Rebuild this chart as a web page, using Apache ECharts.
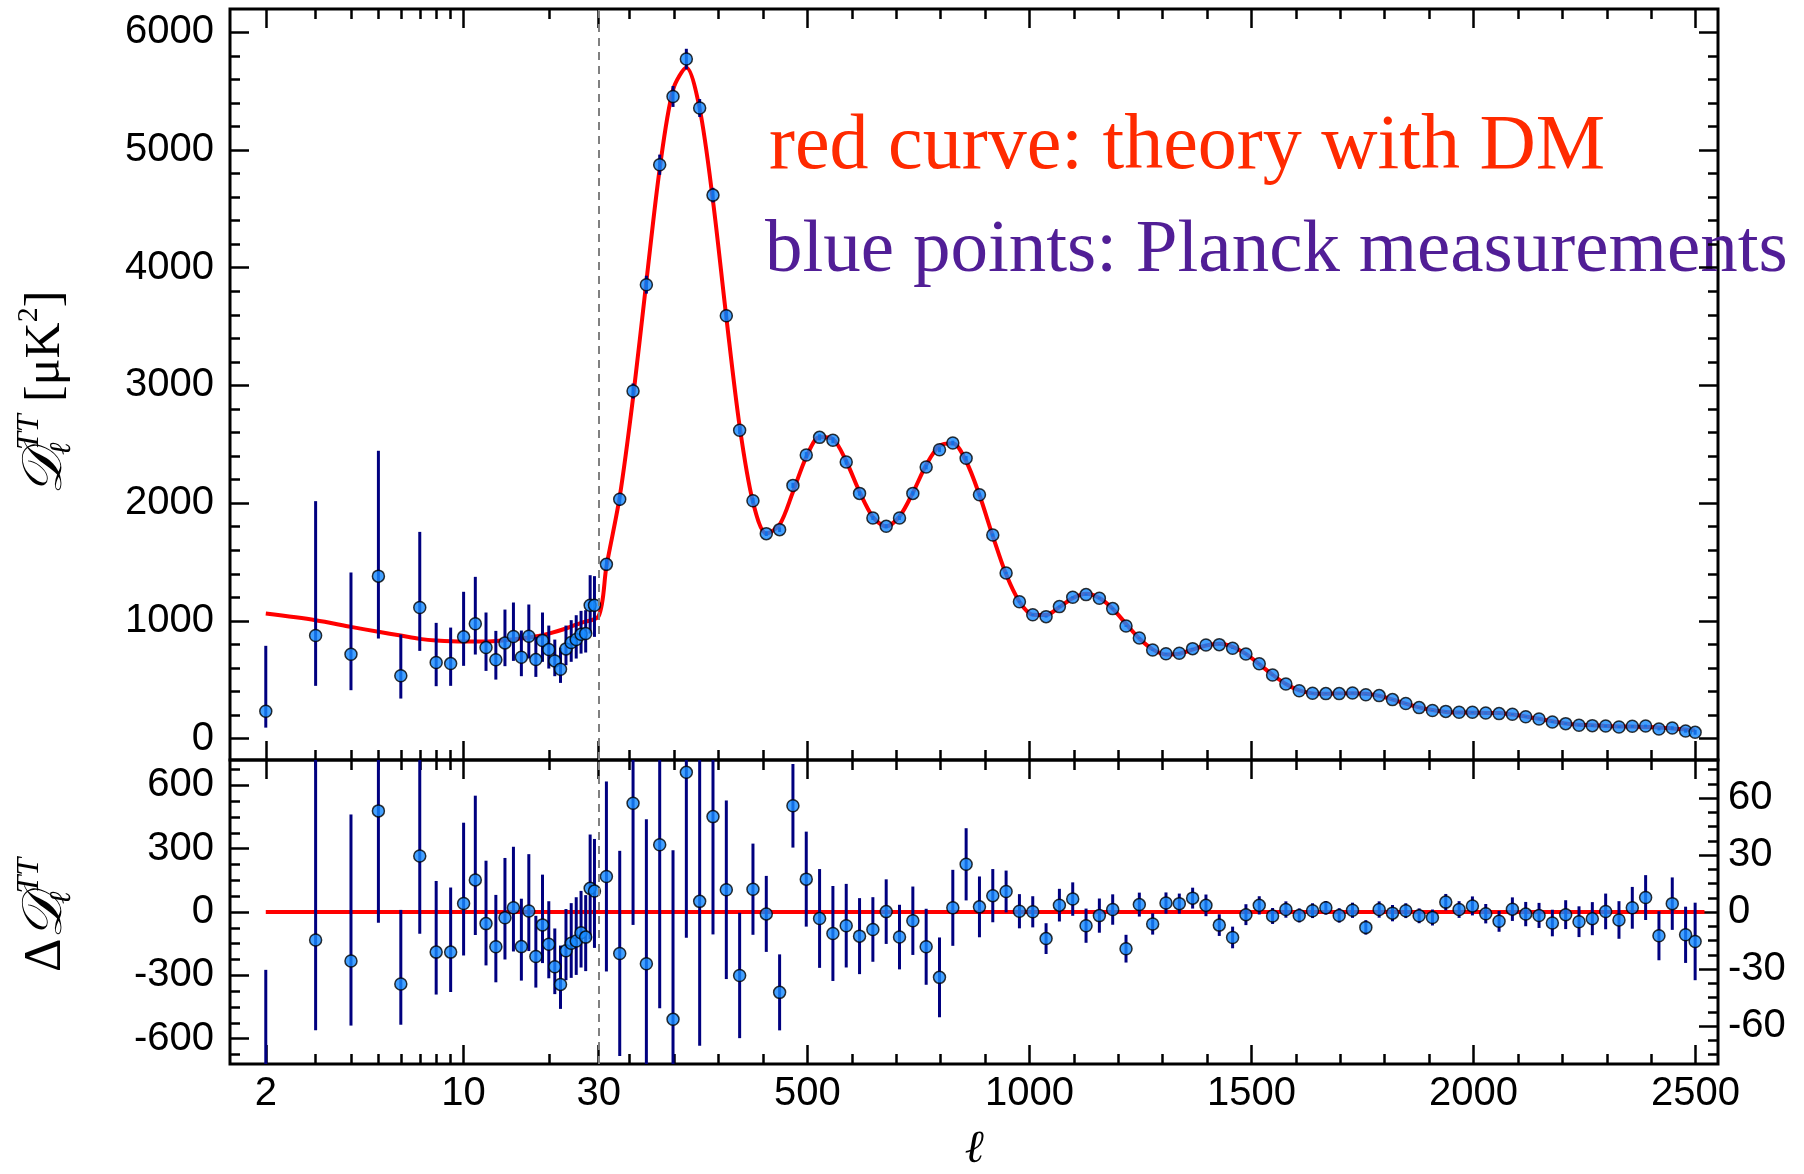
<!DOCTYPE html>
<html>
<head>
<meta charset="utf-8">
<title>Planck TT power spectrum</title>
<script src="https://cdn.jsdelivr.net/npm/echarts@6.0.0/dist/echarts.min.js"></script>
<style>
  html, body { margin: 0; padding: 0; background: #fff; }
  #chart { width: 1804px; height: 1174px; }
</style>
</head>
<body>
<div id="chart"></div>
<script>
// low multipoles (log part of the axis), unbinned
const ellLow = [2, 3, 4, 5, 6, 7, 8, 9, 10, 11, 12, 13, 14, 15, 16, 17, 18, 19, 20, 21, 22, 23, 24, 25, 26, 27, 28, 29];
const dLow = [232, 875, 717, 1380, 533, 1113, 646, 637, 864, 975, 773, 669, 813, 867, 691, 870, 671, 833, 756, 660, 589, 762, 816, 841, 887, 892, 1133, 1133];
const errLowUp = [556, 1142, 694, 1065, 351, 643, 337, 306, 383, 399, 298, 246, 283, 289, 227, 269, 193, 238, 204, 181, 184, 198, 190, 207, 198, 199, 255, 247];
const errLowDown = [139, 427, 306, 530, 193, 368, 201, 189, 246, 261, 198, 168, 198, 207, 161, 190, 147, 181, 161, 130, 116, 139, 164, 161, 165, 161, 241, 269];
const resLow = [-830, -133, -232, 479, -341, 265, -190, -190, 40, 152, -55, -165, -27, 20, -164, 5, -211, -61, -153, -259, -343, -184, -148, -137, -98, -119, 112, 99];

// binned high multipoles (linear part of the axis)
const ellHigh = [47.5, 77.5, 107.5, 137.5, 167.5, 197.5, 227.5, 257.5, 287.5, 317.5, 347.5, 377.5, 407.5, 437.5, 467.5, 497.5,
  527.5, 557.5, 587.5, 617.5, 647.5, 677.5, 707.5, 737.5, 767.5, 797.5, 827.5, 857.5, 887.5, 917.5, 947.5, 977.5, 1007.5,
  1037.5, 1067.5, 1097.5, 1127.5, 1157.5, 1187.5, 1217.5, 1247.5, 1277.5, 1307.5, 1337.5, 1367.5, 1397.5, 1427.5, 1457.5,
  1487.5, 1517.5, 1547.5, 1577.5, 1607.5, 1637.5, 1667.5, 1697.5, 1727.5, 1757.5, 1787.5, 1817.5, 1847.5, 1877.5, 1907.5,
  1937.5, 1967.5, 1997.5, 2027.5, 2057.5, 2087.5, 2117.5, 2147.5, 2177.5, 2207.5, 2237.5, 2267.5, 2297.5, 2327.5, 2357.5,
  2387.5, 2417.5, 2447.5, 2477.5, 2499];
const dHigh = [1480, 2033, 2953, 3856, 4875, 5455, 5773, 5357, 4617, 3592, 2620, 2021, 1741, 1775, 2151, 2409, 2559, 2534,
  2349, 2083, 1874, 1803, 1874, 2083, 2307, 2454, 2511, 2381, 2072, 1729, 1406, 1163, 1052, 1036, 1121, 1200, 1223, 1192,
  1104, 956, 854, 752, 720, 725, 764, 795, 798, 767, 718, 636, 540, 464, 407, 385, 382, 382, 387, 373, 365, 331, 298, 263,
  239, 231, 223, 223, 217, 212, 206, 186, 166, 141, 127, 113, 110, 107, 99, 104, 107, 82, 90, 65, 53];
const errHigh = [50, 54, 64, 76, 86, 89, 87, 76, 62, 47, 33, 24, 20, 20, 22, 25, 26, 25, 22, 20, 17, 17, 17, 18, 20, 21, 20,
  19, 16, 14, 11, 9, 8.2, 8.1, 8.6, 8.8, 9, 9, 8, 7.3, 6.3, 5.6, 5.6, 5.3, 5.5, 5.7, 5.7, 5.7, 5.5, 4.8, 4.2, 4.3, 3.7, 3.9,
  3.6, 3.8, 4, 3.8, 4.3, 4.3, 3.9, 3.9, 4.2, 4.3, 4.4, 5, 5.1, 5.5, 6.2, 6.4, 6.6, 7, 7.6, 8.1, 8.7, 9.4, 9.9, 11, 11.8,
  12.9, 13.8, 14.8, 20.4];
const resHigh = [18.7, -21.8, 57.2, -27.2, 35.4, -56.5, 73.5, 5.6, 50.2, 11.7, -33.4, 12.0, -1, -42.3, 55.9, 17.3, -3.4,
  -11.3, -7.2, -12.7, -9.2, 0.2, -13.2, -4.6, -18.3, -34.4, 2.2, 25.1, 2.7, 8.6, 10.8, 0.4, 0.1, -14, 3.6, 6.8, -7.2, -1.9,
  1.3, -19.3, 3.9, -6.3, 4.7, 4.4, 7.3, 3.5, -6.9, -13.4, -1.4, 3.5, -2.1, 1.3, -1.8, 0.7, 2.2, -1.8, 0.9, -8.1, 1.3, -0.6,
  0.7, -2.0, -2.9, 5.2, 1.3, 3.2, -0.9, -4.9, 1.5, -1.1, -1.8, -5.8, -1.4, -5.1, -3.5, 0.3, -4.2, 2.2, 7.6, -12.5, 4.4,
  -12.0, -15.5];

// theory curve (red)
const ellTheoryLow = [2, 3, 4, 5, 6, 7, 8, 10, 12, 14, 17, 20, 23, 26, 30];
const dTheoryLow = [1062, 1006, 949, 907, 875, 847, 833, 824, 824, 836, 858, 892, 935, 983, 1040];
const dTheoryHigh = [1461, 2055, 2896, 3883, 4840, 5511, 5699, 5351, 4567, 3580, 2653, 2009, 1742, 1817, 2095, 2392, 2562,
  2545, 2356, 2096, 1883, 1803, 1887, 2088, 2325, 2488, 2509, 2356, 2069, 1720, 1395, 1163, 1052, 1050, 1117, 1193, 1230,
  1194, 1103, 975, 850, 758, 715, 721, 757, 791, 805, 780, 719, 632, 542, 463, 409, 384, 380, 384, 386, 381, 364, 332, 297,
  265, 242, 226, 222, 220, 218, 217, 204, 187, 168, 147, 128, 118, 114, 107, 103, 102, 99, 95, 86, 77, 69];
const zeroLineEll = [2, 2520];

// ticks
const xMajorTicks = [2, 10, 30, 500, 1000, 1500, 2000, 2500];
const xMinorTicks = [3, 4, 5, 6, 7, 8, 9, 20, 100, 200, 300, 400, 600, 700, 800, 900, 1100, 1200, 1300, 1400,
  1600, 1700, 1800, 1900, 2100, 2200, 2300, 2400];
const yTopMajor = [0, 1000, 2000, 3000, 4000, 5000, 6000];
const yTopMinor = [200, 400, 600, 800, 1200, 1400, 1600, 1800, 2200, 2400, 2600, 2800, 3200, 3400, 3600, 3800,
  4200, 4400, 4600, 4800, 5200, 5400, 5600, 5800];
const yResLeftMajor = [-600, -300, 0, 300, 600];
const yResLeftMinor = [-675, -525, -450, -375, -225, -150, -75, 75, 150, 225, 375, 450, 525, 675];
const yResRightMajor = [-60, -30, 0, 30, 60];
const yResRightMinor = [-75, -67.5, -52.5, -45, -37.5, -22.5, -15, -7.5, 7.5, 15, 22.5, 37.5, 45, 52.5, 67.5, 75];

const SANS = '"Liberation Sans", Arial, Helvetica, sans-serif';
const SERIF = '"Liberation Serif", "Times New Roman", "DejaVu Serif", serif';

// x axis: log for 2..30, linear above 30
const LOG_W = 289.3;
const LIN_K = 0.386;
const X_MIN = -31.1;
const X_MAX = 1262.2;

function lx(l) {
  return l <= 30 ? LOG_W * Math.log10(l / 2) / Math.log10(15) : LOG_W + LIN_K * (l - 30);
}

function lxLabel(v) {
  const t = xMajorTicks.find(t => Math.abs(lx(t) - v) < 0.01);
  return t === undefined ? '' : String(t);
}

const tickLine = { color: '#000', width: 2.5 };

function xAx(grid, pos, vals, len, labels) {
  return {
    type: 'value', gridIndex: grid, position: pos, min: X_MIN, max: X_MAX,
    axisLine: { show: false, onZero: false },
    splitLine: { show: false },
    axisTick: { show: true, inside: true, length: len, customValues: vals.map(lx), lineStyle: tickLine },
    axisLabel: labels
      ? { show: true, customValues: vals.map(lx), formatter: lxLabel, margin: 10, color: '#000', fontSize: 40, fontFamily: SANS }
      : { show: false }
  };
}

function yAx(grid, pos, min, max, vals, len, labels) {
  return {
    type: 'value', gridIndex: grid, position: pos, min: min, max: max,
    axisLine: { show: false, onZero: false },
    splitLine: { show: false },
    axisTick: { show: true, inside: true, length: len, customValues: vals, lineStyle: tickLine },
    axisLabel: labels
      ? { show: true, customValues: vals, formatter: v => String(v), margin: pos === 'left' ? 16 : 10,
          color: '#000', fontSize: 40, fontFamily: SANS }
      : { show: false }
  };
}

// error bars as vertical segments
function errBar(params, api) {
  const x = api.value(0);
  const p1 = api.coord([x, api.value(1)]);
  const p2 = api.coord([x, api.value(2)]);
  return {
    type: 'line',
    shape: { x1: p1[0], y1: p1[1], x2: p2[0], y2: p2[1] },
    style: { stroke: '#00007f', lineWidth: 3 }
  };
}

const topErr = ellLow.map((l, i) => [lx(l), dLow[i] - errLowDown[i], dLow[i] + errLowUp[i]])
  .concat(ellHigh.map((l, i) => [lx(l), dHigh[i] - errHigh[i], dHigh[i] + errHigh[i]]));
const topPts = ellLow.map((l, i) => [lx(l), dLow[i]]).concat(ellHigh.map((l, i) => [lx(l), dHigh[i]]));
const theory = ellTheoryLow.map((l, i) => [lx(l), dTheoryLow[i]])
  .concat(ellHigh.map((l, i) => [lx(l), dTheoryHigh[i]]));

const resLowErr = ellLow.map((l, i) => [lx(l), resLow[i] - errLowDown[i], resLow[i] + errLowUp[i]]);
const resHighErr = ellHigh.map((l, i) => [lx(l), resHigh[i] - errHigh[i], resHigh[i] + errHigh[i]]);

const dotStyle = { color: '#1589ff', borderColor: '#000', borderWidth: 1.5 };
const dashLine = {
  silent: true, symbol: ['none', 'none'], label: { show: false },
  lineStyle: { color: '#808080', type: [8, 6], width: 2 },
  data: [{ xAxis: lx(30) }]
};

const chart = echarts.init(document.getElementById('chart'));

chart.setOption({
  animation: false,
  backgroundColor: '#fff',
  grid: [
    { left: 230, top: 9, width: 1488, height: 751, show: true, borderColor: '#000', borderWidth: 3, outerBoundsMode: 'none' },
    { left: 230, top: 760, width: 1488, height: 304, show: true, borderColor: '#000', borderWidth: 3, outerBoundsMode: 'none' }
  ],
  xAxis: [
    xAx(0, 'bottom', xMajorTicks, 19, false),
    xAx(0, 'bottom', xMinorTicks, 10, false),
    xAx(0, 'top', xMajorTicks, 19, false),
    xAx(0, 'top', xMinorTicks, 10, false),
    xAx(1, 'bottom', xMajorTicks, 19, true),
    xAx(1, 'bottom', xMinorTicks, 10, false),
    xAx(1, 'top', xMajorTicks, 19, false),
    xAx(1, 'top', xMinorTicks, 10, false)
  ],
  yAxis: [
    yAx(0, 'left', -182, 6198, yTopMajor, 19, true),
    yAx(0, 'left', -182, 6198, yTopMinor, 10, false),
    yAx(0, 'right', -182, 6198, yTopMajor, 19, false),
    yAx(0, 'right', -182, 6198, yTopMinor, 10, false),
    yAx(1, 'left', -720, 720, yResLeftMajor, 19, true),
    yAx(1, 'left', -720, 720, yResLeftMinor, 10, false),
    yAx(1, 'right', -80, 80, yResRightMajor, 19, true),
    yAx(1, 'right', -80, 80, yResRightMinor, 10, false)
  ],
  series: [
    {
      name: 'theory', type: 'line', xAxisIndex: 0, yAxisIndex: 0, data: theory,
      showSymbol: false, smooth: 0.3, z: 2,
      lineStyle: { color: '#ff0000', width: 4 },
      markLine: dashLine
    },
    {
      name: 'errors', type: 'custom', xAxisIndex: 0, yAxisIndex: 0, data: topErr,
      renderItem: errBar, encode: { x: 0, y: [1, 2] }, clip: true, z: 3
    },
    {
      name: 'Planck', type: 'scatter', xAxisIndex: 0, yAxisIndex: 0, data: topPts,
      symbolSize: 12, itemStyle: dotStyle, z: 4
    },
    {
      name: 'zero', type: 'line', xAxisIndex: 4, yAxisIndex: 4,
      data: zeroLineEll.map(l => [lx(l), 0]), showSymbol: false, z: 2,
      lineStyle: { color: '#ff0000', width: 4 },
      markLine: dashLine
    },
    {
      name: 'res low err', type: 'custom', xAxisIndex: 4, yAxisIndex: 4, data: resLowErr,
      renderItem: errBar, encode: { x: 0, y: [1, 2] }, clip: true, z: 3
    },
    {
      name: 'res high err', type: 'custom', xAxisIndex: 4, yAxisIndex: 6, data: resHighErr,
      renderItem: errBar, encode: { x: 0, y: [1, 2] }, clip: true, z: 3
    },
    {
      name: 'res low', type: 'scatter', xAxisIndex: 4, yAxisIndex: 4,
      data: ellLow.map((l, i) => [lx(l), resLow[i]]), symbolSize: 12, itemStyle: dotStyle, z: 4
    },
    {
      name: 'res high', type: 'scatter', xAxisIndex: 4, yAxisIndex: 6,
      data: ellHigh.map((l, i) => [lx(l), resHigh[i]]), symbolSize: 12, itemStyle: dotStyle, z: 4
    }
  ],
  graphic: [
    {
      type: 'group', x: 46, y: 387, rotation: Math.PI / 2,
      children: [
        {
          type: 'text', x: -108, y: 0,
          style: {
            text: '{d|𝒟}{s|TT}{n| [μK}{p|2}{n|]}',
            align: 'left', verticalAlign: 'middle', fill: '#000',
            rich: {
              d: { fontFamily: SERIF, fontStyle: 'italic', fontSize: 56, lineHeight: 64, fill: '#000' },
              s: { fontFamily: SERIF, fontStyle: 'italic', fontSize: 32, verticalAlign: 'top', fill: '#000' },
              n: { fontFamily: SERIF, fontSize: 50, fill: '#000' },
              p: { fontFamily: SERIF, fontSize: 30, verticalAlign: 'top', fill: '#000' }
            }
          }
        },
        {
          type: 'text', x: -68, y: 16,
          style: { text: 'ℓ', fontFamily: SERIF, fontStyle: 'italic', fontSize: 30, align: 'left', verticalAlign: 'middle', fill: '#000' }
        }
      ]
    },
    {
      type: 'group', x: 46, y: 906, rotation: Math.PI / 2,
      children: [
        {
          type: 'text', x: -66, y: 0,
          style: {
            text: '{n|Δ}{d|𝒟}{s|TT}',
            align: 'left', verticalAlign: 'middle', fill: '#000',
            rich: {
              d: { fontFamily: SERIF, fontStyle: 'italic', fontSize: 56, lineHeight: 64, fill: '#000' },
              s: { fontFamily: SERIF, fontStyle: 'italic', fontSize: 32, verticalAlign: 'top', fill: '#000' },
              n: { fontFamily: SERIF, fontSize: 52, fill: '#000' }
            }
          }
        },
        {
          type: 'text', x: 2, y: 16,
          style: { text: 'ℓ', fontFamily: SERIF, fontStyle: 'italic', fontSize: 30, align: 'left', verticalAlign: 'middle', fill: '#000' }
        }
      ]
    },
    {
      type: 'text', x: 974, y: 1150,
      style: { text: 'ℓ', fontFamily: SERIF, fontStyle: 'italic', fontSize: 46, align: 'center', verticalAlign: 'middle', fill: '#000' }
    },
    {
      type: 'text', x: 769, y: 148,
      style: { text: 'red curve: theory with DM', fontFamily: SERIF, fontSize: 78, align: 'left', verticalAlign: 'middle', fill: '#ff2a00' }
    },
    {
      type: 'text', x: 765, y: 251,
      style: { text: 'blue points: Planck measurements', fontFamily: SERIF, fontSize: 75, align: 'left', verticalAlign: 'middle', fill: '#511e96' }
    }
  ]
});
</script>
</body>
</html>
